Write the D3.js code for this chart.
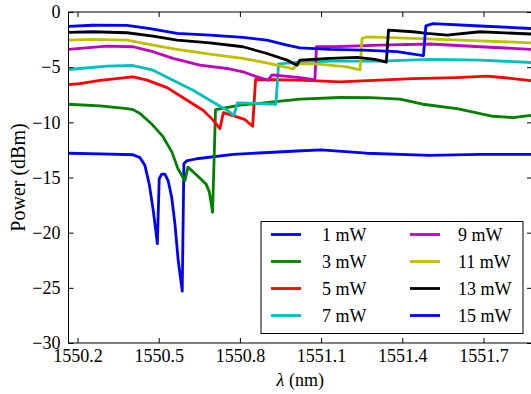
<!DOCTYPE html>
<html>
<head>
<meta charset="utf-8">
<script src="https://cdn.jsdelivr.net/npm/d3@7"></script>
<style>
  html, body { margin: 0; padding: 0; background: #fff; }
  svg { display: block; }
  svg text { font-family: "Liberation Serif", "Times New Roman", Times, serif !important; }
</style>
</head>
<body>
<svg id="chart" width="531" height="394"></svg>
<script>
// ---- data (wavelength nm, power dBm) ----
const p1mW = [[1550.165,-12.8],[1550.283,-12.85],[1550.405,-12.94],[1550.431,-13.2],[1550.449,-13.9],[1550.465,-15.6],[1550.480,-18.0],[1550.495,-21.0],[1550.502,-15.1],[1550.511,-14.7],[1550.523,-14.7],[1550.535,-15.3],[1550.548,-16.8],[1550.560,-19.2],[1550.572,-22.5],[1550.587,-25.3],[1550.593,-13.75],[1550.603,-13.5],[1550.640,-13.3],[1550.776,-12.9],[1551.010,-12.6],[1551.100,-12.5],[1551.268,-12.8],[1551.500,-13.0],[1551.687,-12.9],[1551.880,-12.9]];
const p3mW = [[1550.165,-8.36],[1550.283,-8.5],[1550.383,-8.76],[1550.405,-8.85],[1550.431,-9.2],[1550.472,-10.1],[1550.516,-11.3],[1550.549,-12.7],[1550.571,-14.2],[1550.597,-15.3],[1550.608,-14.06],[1550.641,-14.8],[1550.675,-15.6],[1550.687,-16.3],[1550.699,-18.15],[1550.710,-8.85],[1550.800,-8.45],[1551.022,-7.9],[1551.170,-7.75],[1551.281,-7.76],[1551.391,-7.9],[1551.476,-8.36],[1551.602,-8.76],[1551.735,-9.45],[1551.809,-9.57],[1551.880,-9.36]];
const p5mW = [[1550.165,-6.58],[1550.209,-6.5],[1550.283,-6.2],[1550.405,-5.88],[1550.457,-6.18],[1550.531,-6.85],[1550.605,-8.0],[1550.664,-8.9],[1550.701,-9.8],[1550.726,-10.58],[1550.739,-9.12],[1550.789,-9.5],[1550.819,-9.76],[1550.847,-10.36],[1550.858,-6.12],[1551.022,-6.18],[1551.170,-6.33],[1551.439,-6.03],[1551.602,-5.94],[1551.713,-5.82],[1551.809,-6.03],[1551.880,-6.24]];
const p7mW = [[1550.165,-5.21],[1550.209,-5.12],[1550.309,-4.91],[1550.405,-4.85],[1550.479,-5.27],[1550.553,-6.18],[1550.627,-7.09],[1550.689,-8.0],[1550.752,-8.9],[1550.778,-9.36],[1550.791,-8.24],[1550.874,-8.3],[1550.933,-8.36],[1550.943,-4.7],[1551.022,-4.55],[1551.144,-4.45],[1551.317,-4.45],[1551.502,-4.3],[1551.687,-4.36],[1551.880,-4.58]];
const p9mW = [[1550.165,-3.39],[1550.209,-3.3],[1550.309,-3.09],[1550.405,-3.15],[1550.479,-3.6],[1550.553,-4.21],[1550.652,-4.82],[1550.752,-5.12],[1550.811,-5.42],[1550.863,-5.88],[1550.904,-6.18],[1550.919,-5.7],[1551.022,-5.94],[1551.077,-6.15],[1551.083,-3.15],[1551.144,-3.15],[1551.317,-3.0],[1551.502,-2.9],[1551.687,-3.15],[1551.880,-3.39]];
const p11mW = [[1550.165,-2.55],[1550.257,-2.48],[1550.383,-2.55],[1550.479,-3.0],[1550.568,-3.39],[1550.689,-3.82],[1550.811,-4.21],[1550.911,-4.67],[1550.997,-5.15],[1551.016,-4.7],[1551.070,-4.67],[1551.196,-4.97],[1551.244,-5.25],[1551.251,-2.4],[1551.269,-2.25],[1551.439,-2.39],[1551.687,-2.61],[1551.880,-2.8]];
const p13mW = [[1550.165,-1.85],[1550.257,-1.79],[1550.383,-1.88],[1550.479,-2.18],[1550.568,-2.55],[1550.689,-2.79],[1550.811,-3.15],[1550.900,-3.76],[1550.974,-4.36],[1551.000,-4.7],[1551.011,-4.8],[1551.022,-4.36],[1551.133,-4.21],[1551.233,-4.12],[1551.299,-4.3],[1551.341,-4.55],[1551.349,-1.65],[1551.439,-1.79],[1551.491,-1.94],[1551.565,-2.09],[1551.687,-1.79],[1551.880,-2.0]];
const p15mW = [[1550.165,-1.3],[1550.257,-1.2],[1550.383,-1.22],[1550.468,-1.5],[1550.568,-1.94],[1550.689,-2.09],[1550.811,-2.3],[1550.900,-2.55],[1550.974,-3.0],[1551.022,-3.25],[1551.133,-3.39],[1551.255,-3.45],[1551.380,-3.6],[1551.478,-3.95],[1551.487,-1.25],[1551.513,-1.05],[1551.687,-1.27],[1551.880,-1.5]];

const seriesLabels = ["1 mW","3 mW","5 mW","7 mW","9 mW","11 mW","13 mW","15 mW"];
const seriesColors = ["#0000ff","#008000","#ff0000","#00bfbf","#bf00bf","#bfbf00","#000000","#0000ff"];
const seriesData = [p1mW,p3mW,p5mW,p7mW,p9mW,p11mW,p13mW,p15mW];
const xTicks = [1550.2,1550.5,1550.8,1551.1,1551.4,1551.7];
const yTicks = [0,-5,-10,-15,-20,-25,-30];

// ---- layout ----
const svg = d3.select("#chart");
const plot = {left: 68.5, right: 532, top: 12, bottom: 343};
const x = d3.scaleLinear().domain([1550.2, 1551.7]).range([77.5, 483.5]);
const y = d3.scaleLinear().domain([-30, 0]).range([plot.bottom, plot.top]);

svg.append("rect").attr("width",531).attr("height",394).attr("fill","#fff");

svg.append("defs").append("clipPath").attr("id","clip")
  .append("rect").attr("x",plot.left).attr("y",plot.top)
  .attr("width",plot.right-plot.left).attr("height",plot.bottom-plot.top);

const line = d3.line().x(d => x(d[0])).y(d => y(d[1]));
const gLines = svg.append("g").attr("clip-path","url(#clip)");
seriesData.forEach((s,i) => {
  gLines.append("path").datum(s)
    .attr("d", line)
    .attr("fill","none")
    .attr("stroke", seriesColors[i])
    .attr("stroke-width", 2.8)
    .attr("stroke-linejoin","round");
});

// ---- axes ----
const fmtX = d3.format(".1f");
const fmtY = d3.format("d");
const styleAxis = g => {
  g.attr("font-family", null);
  g.select(".domain").remove();
  g.selectAll(".tick line").attr("stroke","#000").attr("stroke-width",1);
  g.selectAll("text").attr("font-size",18).attr("fill","#000");
};
svg.append("g").attr("transform",`translate(0,${plot.bottom})`)
  .call(d3.axisBottom(x).tickValues(xTicks).tickFormat(fmtX).tickSize(-5).tickPadding(6))
  .call(styleAxis);
svg.append("g").attr("transform",`translate(0,${plot.top})`)
  .call(d3.axisTop(x).tickValues(xTicks).tickFormat("").tickSize(-5))
  .call(styleAxis);
svg.append("g").attr("transform",`translate(${plot.left},0)`)
  .call(d3.axisLeft(y).tickValues(yTicks).tickFormat(fmtY).tickSize(-5).tickPadding(8))
  .call(styleAxis);
svg.append("g").attr("transform",`translate(${plot.right},0)`)
  .call(d3.axisRight(y).tickValues(yTicks).tickFormat("").tickSize(-5))
  .call(styleAxis);

svg.append("rect").attr("x",plot.left).attr("y",plot.top)
  .attr("width",plot.right-plot.left).attr("height",plot.bottom-plot.top)
  .attr("fill","none").attr("stroke","#000").attr("stroke-width",1);

// axis labels
svg.append("text").attr("x",(plot.left+plot.right)/2).attr("y",386)
  .attr("text-anchor","middle").attr("font-size",18)
  .html('<tspan font-style="italic">λ</tspan> (nm)');
svg.append("text").attr("transform",`translate(25,${(plot.top+plot.bottom)/2}) rotate(-90)`)
  .attr("text-anchor","middle").attr("font-size",20).text("Power (dBm)");

// ---- legend ----
const leg = svg.append("g").attr("transform","translate(261,221.5)");
leg.append("rect").attr("width",262).attr("height",112)
  .attr("fill","#fff").attr("stroke","#000").attr("stroke-width",1);
seriesLabels.forEach((lab,i) => {
  const col = Math.floor(i/4), row = i%4;
  const lx = col === 0 ? 10 : 149;
  const ty = 13 + row*27;
  leg.append("line").attr("x1",lx).attr("x2",lx+30).attr("y1",ty).attr("y2",ty)
    .attr("stroke",seriesColors[i]).attr("stroke-width",2.8);
  leg.append("text").attr("x", col === 0 ? 61 : 197).attr("y",ty+6)
    .attr("font-size",18).text(lab);
});
</script>
</body>
</html>
